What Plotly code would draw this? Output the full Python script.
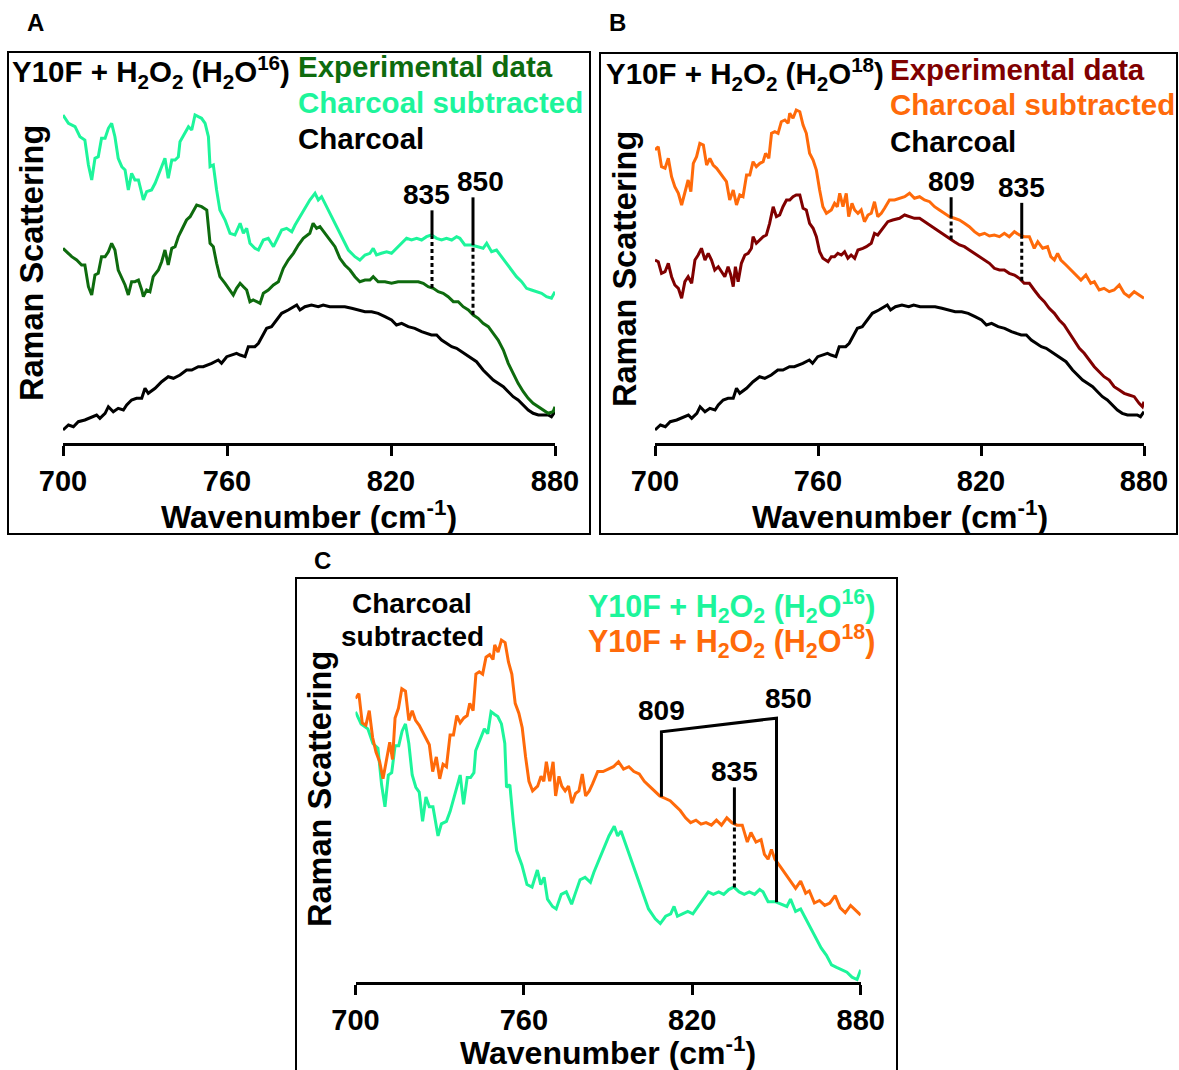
import numpy as np
import plotly.graph_objects as go

W, H = 1179, 1070

# ---------------- spectra: Raman shift (cm-1) and intensity (a.u.) ----------------
# Y10F + H2O2 in H2O(16): charcoal-subtracted spectrum
wn_16_sub = [700.0, 702.0, 704.4, 706.2, 708.0, 709.3, 710.5, 711.7, 712.9, 714.1, 715.4, 716.6, 717.8, 719.0,
             720.2, 721.5, 722.7, 723.9, 725.1, 726.3, 727.6, 728.8, 729.4, 730.6, 732.4, 733.7, 734.9, 736.1,
             737.3, 738.5, 739.8, 741.0, 742.2, 742.8, 744.6, 745.9, 747.1, 748.3, 749.5, 750.7, 752.0, 753.2,
             753.8, 755.0, 756.2, 757.4, 759.3, 761.1, 762.9, 764.8, 766.0, 767.2, 768.4, 770.2, 771.5, 773.3,
             775.1, 777.0, 778.2, 780.0, 781.8, 783.7, 784.9, 786.7, 788.5, 790.3, 792.2, 793.4, 794.6, 796.4,
             798.3, 800.7, 802.5, 804.4, 806.8, 808.6, 810.5, 812.3, 813.5, 814.7, 816.5, 818.4, 820.2, 822.0,
             823.9, 825.7, 827.5, 829.4, 831.2, 833.0, 834.8, 836.7, 838.5, 840.3, 842.2, 844.0, 845.2, 847.0,
             849.5, 851.9, 853.7, 855.0, 856.8, 858.6, 860.5, 862.3, 864.1, 865.9, 867.8, 869.6, 871.4, 873.3,
             875.1, 876.9, 878.7, 880.0]
int_16_sub = [328.0, 319.7, 316.3, 306.3, 303.0, 278.0, 263.0, 284.7, 286.3, 304.7, 304.7, 314.7, 319.7, 306.3,
              284.7, 276.3, 273.0, 253.0, 269.7, 263.0, 263.0, 249.7, 243.0, 251.3, 253.0, 259.7, 268.0, 274.7,
              284.7, 264.7, 283.0, 283.0, 286.3, 301.3, 309.7, 316.3, 313.0, 328.0, 326.3, 324.7, 319.7, 306.3,
              276.3, 278.0, 253.0, 233.0, 223.0, 209.7, 208.0, 219.7, 209.7, 214.7, 199.7, 194.7, 193.0, 203.0,
              204.7, 196.3, 203.0, 213.0, 214.7, 211.3, 218.0, 226.3, 234.7, 243.0, 249.7, 243.0, 246.3, 236.3,
              226.3, 213.0, 203.0, 193.0, 186.3, 183.0, 188.0, 189.7, 194.7, 188.0, 189.7, 191.3, 189.7, 194.7,
              199.7, 204.7, 203.0, 204.7, 203.0, 206.3, 208.0, 204.7, 203.0, 204.7, 203.0, 206.3, 204.7, 198.0,
              198.0, 196.3, 194.7, 199.7, 191.3, 193.0, 186.3, 179.7, 173.0, 166.3, 161.3, 154.7, 153.0, 151.3,
              149.7, 146.3, 144.7, 151.3]

# Y10F + H2O2 in H2O(16): experimental spectrum
wn_16_exp = [700.0, 701.3, 703.2, 705.0, 706.8, 708.0, 709.3, 710.5, 711.7, 712.9, 714.1, 715.4, 716.6, 717.8,
             719.0, 720.2, 721.5, 722.7, 723.9, 725.1, 726.3, 727.6, 728.8, 729.4, 730.6, 731.8, 733.0, 734.9,
             736.1, 737.3, 738.5, 739.8, 741.0, 742.2, 743.4, 745.2, 746.5, 747.7, 748.9, 750.7, 752.6, 753.8,
             755.0, 756.2, 757.4, 759.3, 761.1, 762.3, 763.5, 764.8, 766.0, 767.2, 768.4, 769.6, 770.9, 772.1,
             773.3, 775.1, 777.0, 778.8, 780.6, 782.4, 784.3, 786.1, 787.9, 790.3, 791.5, 792.8, 794.0, 795.8,
             797.6, 799.5, 801.3, 803.1, 805.0, 806.8, 808.6, 810.5, 812.3, 813.5, 815.3, 817.8, 820.2, 822.6,
             825.1, 827.5, 830.0, 831.8, 833.6, 835.5, 837.3, 839.1, 840.9, 842.8, 844.6, 846.4, 848.3, 850.1,
             851.9, 853.7, 855.6, 857.4, 859.2, 861.1, 862.9, 864.7, 866.5, 868.4, 870.2, 872.0, 873.9, 875.7,
             877.5, 879.3, 880.0]
int_16_exp = [194.7, 191.3, 186.3, 183.0, 178.0, 178.0, 156.3, 148.0, 168.0, 169.7, 186.3, 186.3, 191.3, 199.7,
              193.0, 173.0, 164.7, 158.0, 148.0, 161.3, 161.3, 163.0, 153.0, 146.3, 153.0, 151.3, 166.3, 173.0,
              181.3, 193.0, 178.0, 194.7, 196.3, 206.3, 213.0, 223.0, 226.3, 233.0, 238.0, 236.3, 233.0, 199.7,
              196.3, 179.7, 166.3, 159.7, 153.0, 148.0, 154.7, 159.7, 156.3, 153.0, 141.3, 143.0, 141.3, 139.7,
              149.7, 153.0, 158.0, 161.3, 174.7, 183.0, 189.7, 198.0, 204.7, 209.7, 219.7, 214.7, 216.3, 209.7,
              203.0, 196.3, 184.7, 178.0, 173.0, 166.3, 161.3, 163.0, 163.0, 166.3, 161.3, 161.3, 159.7, 161.3,
              161.3, 161.3, 161.3, 159.7, 156.3, 154.7, 151.3, 149.7, 146.3, 141.3, 141.3, 136.3, 133.0, 128.0,
              124.7, 119.7, 116.3, 109.7, 103.0, 93.0, 79.7, 69.7, 59.7, 51.3, 44.7, 39.7, 36.3, 33.0,
              29.7, 31.3, 36.3]

# Charcoal background spectrum
wn_charcoal = [700.0, 702.0, 703.8, 705.6, 708.0, 710.5, 712.3, 713.5, 715.4, 716.6, 718.4, 720.2, 722.1, 723.3,
               725.1, 726.9, 728.8, 730.0, 731.2, 733.7, 736.1, 738.5, 740.4, 742.8, 745.2, 747.1, 749.5, 751.3,
               753.2, 754.4, 756.8, 758.0, 759.9, 761.7, 763.5, 764.8, 766.6, 767.8, 770.2, 771.5, 773.3, 774.5,
               776.3, 778.2, 780.0, 782.4, 784.3, 785.5, 786.7, 788.5, 790.9, 793.4, 795.2, 797.6, 800.7, 803.1,
               805.6, 808.0, 810.5, 812.9, 815.3, 817.8, 820.2, 822.0, 823.9, 826.3, 828.7, 831.2, 833.0, 834.8,
               836.7, 838.5, 840.3, 842.2, 844.0, 845.8, 847.6, 849.5, 851.3, 853.7, 855.6, 857.4, 859.2, 861.1,
               862.9, 864.7, 866.5, 868.4, 870.2, 872.0, 873.9, 875.7, 877.5, 878.7, 880.0]
int_charcoal = [13.0, 18.0, 16.3, 21.3, 23.0, 26.3, 28.0, 24.7, 29.7, 36.3, 31.3, 34.7, 33.0, 38.0,
                43.0, 44.7, 44.7, 54.7, 49.7, 54.7, 61.3, 66.3, 64.7, 68.0, 73.0, 73.0, 76.3, 76.3,
                78.0, 79.7, 83.0, 79.7, 86.3, 88.0, 89.7, 88.0, 86.3, 96.3, 96.3, 99.7, 108.0, 114.7,
                116.3, 123.0, 129.7, 133.0, 136.3, 138.0, 133.0, 136.3, 138.0, 136.3, 138.0, 136.3, 136.3, 136.3,
                134.7, 133.0, 131.3, 131.3, 129.7, 126.3, 123.0, 118.0, 119.7, 116.3, 114.7, 111.3, 109.7, 108.0,
                108.0, 103.0, 99.7, 96.3, 94.7, 91.3, 88.0, 84.7, 81.3, 73.0, 68.0, 63.0, 59.7, 56.3,
                51.3, 46.3, 43.0, 38.0, 33.0, 29.7, 28.0, 28.0, 28.0, 26.3, 31.3]

# Y10F + H2O2 in H2O(18): charcoal-subtracted spectrum
wn_18_sub = [700.0, 701.2, 702.4, 703.7, 704.9, 706.1, 707.3, 708.6, 709.8, 711.0, 712.2, 713.2, 714.1, 715.3,
             716.5, 717.8, 719.0, 720.2, 721.4, 722.7, 724.5, 726.3, 727.5, 728.8, 730.0, 731.2, 732.4, 733.7,
             734.9, 736.1, 737.3, 738.6, 739.8, 740.7, 741.9, 742.9, 744.1, 745.3, 746.5, 747.8, 749.0, 749.6,
             750.8, 752.0, 753.3, 754.5, 755.7, 756.9, 758.2, 759.4, 760.6, 761.8, 763.1, 764.9, 766.1, 767.1,
             768.0, 769.2, 770.4, 771.3, 772.5, 773.5, 774.7, 775.9, 777.1, 778.4, 779.6, 780.8, 782.0, 783.3,
             784.5, 786.3, 788.2, 790.0, 791.9, 793.7, 795.5, 797.4, 799.2, 801.1, 802.9, 804.7, 806.6, 808.4,
             810.2, 812.1, 813.9, 815.7, 817.6, 819.4, 821.3, 823.1, 824.9, 826.8, 828.6, 830.4, 832.3, 834.1,
             835.9, 837.8, 839.6, 840.9, 842.7, 844.5, 845.7, 847.0, 848.2, 849.4, 851.3, 853.1, 854.9, 856.8,
             858.6, 860.4, 861.7, 863.5, 865.3, 867.2, 869.0, 870.9, 872.7, 874.5, 876.4, 878.2, 880.0]
int_18_sub = [293.0, 296.3, 276.3, 274.7, 284.7, 266.3, 256.3, 249.7, 238.0, 249.7, 263.0, 251.3, 279.7, 286.3,
              299.7, 298.0, 278.0, 284.7, 278.0, 274.7, 268.0, 261.3, 243.0, 253.0, 238.0, 248.0, 246.3, 268.0,
              268.0, 281.3, 276.3, 279.7, 281.3, 289.7, 284.7, 309.7, 311.3, 309.7, 321.3, 323.0, 319.7, 329.7,
              324.7, 333.0, 331.3, 318.0, 309.7, 289.7, 283.0, 273.0, 253.0, 236.3, 229.7, 233.0, 239.7, 236.3,
              249.7, 236.3, 249.7, 226.3, 239.7, 233.0, 229.7, 233.0, 221.3, 228.0, 229.7, 241.3, 226.3, 229.7,
              234.7, 243.0, 243.0, 244.7, 246.3, 249.7, 244.7, 246.3, 243.0, 241.3, 236.3, 233.0, 229.7, 226.3,
              224.7, 223.0, 219.7, 216.3, 211.3, 208.0, 209.7, 207.0, 208.0, 206.3, 209.7, 206.3, 211.3, 208.0,
              206.3, 206.3, 194.7, 201.3, 194.7, 196.3, 186.3, 183.0, 189.7, 183.0, 178.0, 173.0, 168.0, 163.0,
              168.0, 159.7, 161.3, 153.0, 154.7, 151.3, 153.0, 158.0, 149.7, 146.3, 151.3, 148.0, 144.7]

# Y10F + H2O2 in H2O(18): experimental spectrum
wn_18_exp = [700.0, 701.2, 702.4, 703.7, 704.9, 706.1, 707.3, 708.6, 709.8, 711.0, 712.2, 713.5, 714.7, 715.9,
             717.1, 718.4, 719.6, 720.8, 722.0, 723.3, 724.5, 725.7, 726.9, 727.9, 728.8, 729.6, 730.6, 731.8,
             733.1, 734.3, 735.5, 736.1, 737.3, 738.6, 739.8, 741.0, 742.2, 743.5, 744.7, 745.9, 747.1, 748.4,
             749.6, 750.8, 752.0, 753.3, 754.5, 755.7, 756.9, 758.2, 759.4, 760.6, 761.8, 763.7, 764.9, 766.1,
             767.3, 768.6, 769.8, 771.0, 772.2, 773.5, 774.7, 776.5, 777.8, 779.6, 780.8, 782.0, 783.9, 785.7,
             787.5, 790.0, 791.9, 793.7, 795.5, 797.4, 799.2, 801.1, 802.9, 804.7, 806.6, 808.4, 810.2, 812.1,
             813.9, 815.7, 817.6, 819.4, 821.3, 823.1, 824.9, 826.8, 828.6, 830.4, 832.3, 834.1, 835.9, 837.8,
             839.6, 841.5, 843.3, 845.1, 847.0, 848.8, 850.6, 852.5, 854.3, 856.2, 858.0, 859.8, 861.7, 863.5,
             865.3, 867.2, 869.0, 870.9, 872.7, 874.5, 876.4, 878.2, 879.4, 880.0]
int_18_exp = [183.0, 181.3, 169.7, 171.3, 179.7, 166.3, 158.0, 154.7, 144.7, 161.3, 166.3, 159.7, 183.0, 188.0,
              194.7, 183.0, 189.7, 183.0, 173.0, 176.3, 171.3, 166.3, 176.3, 168.0, 156.3, 176.3, 161.3, 179.7,
              188.0, 189.7, 194.7, 206.3, 199.7, 203.0, 206.3, 208.0, 219.7, 236.3, 226.3, 228.0, 236.3, 243.0,
              243.0, 246.3, 248.0, 248.0, 234.7, 233.0, 219.7, 214.7, 206.3, 191.3, 184.7, 181.3, 186.3, 186.3,
              189.7, 188.0, 191.3, 184.7, 188.0, 184.7, 193.0, 194.7, 196.3, 199.7, 209.7, 208.0, 214.7, 221.3,
              223.0, 224.7, 228.0, 226.3, 224.7, 224.7, 221.3, 218.0, 214.7, 211.3, 208.0, 204.7, 201.3, 198.0,
              196.3, 193.0, 189.7, 186.3, 183.0, 179.7, 174.7, 173.0, 173.0, 169.7, 168.0, 164.7, 159.7, 159.7,
              153.0, 146.3, 141.3, 134.7, 129.7, 123.0, 118.0, 109.7, 103.0, 94.7, 89.7, 83.0, 76.3, 71.3,
              66.3, 63.0, 56.3, 53.0, 49.7, 48.0, 46.3, 39.7, 36.3, 41.3]

# stacking offset of the H2O(18) trace in the overlay panel
offset_18 = 44.1

# Labelled band positions (cm-1)
band_809, band_835, band_850 = 809, 835, 850

# ---------------- colours / fonts ----------------
C_EXP16 = "#0E6B0E"
C_SUB16 = "#1DF59B"
C_EXP18 = "#800000"
C_SUB18 = "#FF6A0A"
FONT = "Liberation Sans, Arial, sans-serif"
FS = 29.5


def px(x):
    return x / W


def py(y):
    return 1 - y / H


fig = go.Figure()


def add_line(x, y, color, xa, ya):
    fig.add_trace(go.Scatter(x=x, y=y, mode="lines", line=dict(color=color, width=3),
                             xaxis=xa, yaxis=ya, showlegend=False, hoverinfo="skip"))


# Panel A
add_line(wn_charcoal, int_charcoal, "black", "x", "y")
add_line(wn_16_exp, int_16_exp, C_EXP16, "x", "y")
add_line(wn_16_sub, int_16_sub, C_SUB16, "x", "y")
# Panel B
add_line(wn_charcoal, int_charcoal, "black", "x2", "y2")
add_line(wn_18_exp, int_18_exp, C_EXP18, "x2", "y2")
add_line(wn_18_sub, int_18_sub, C_SUB18, "x2", "y2")
# Panel C (overlay of the subtracted spectra)
add_line(wn_16_sub, int_16_sub, C_SUB16, "x3", "y3")
add_line(wn_18_sub, [v + offset_18 for v in int_18_sub], C_SUB18, "x3", "y3")

xaxis_style = dict(range=[700, 880], tickvals=[700, 760, 820, 880], ticks="outside", ticklen=10,
                   tickwidth=3, tickcolor="black", showline=True, linewidth=3, linecolor="black",
                   showgrid=False, zeroline=False, ticklabelstandoff=0,
                   tickfont=dict(family=FONT, size=29, color="black", weight="bold"), fixedrange=True)
yaxis_style = dict(visible=False, showgrid=False, zeroline=False, fixedrange=True)

fig.update_layout(
    width=W, height=H, margin=dict(l=0, r=0, t=0, b=0, pad=0, autoexpand=False),
    paper_bgcolor="white", plot_bgcolor="white", showlegend=False,
    xaxis=dict(domain=[px(63), px(555)], anchor="y", **xaxis_style),
    yaxis=dict(domain=[py(443), py(100)], range=[0, 343], anchor="x", **yaxis_style),
    xaxis2=dict(domain=[px(655), px(1144)], anchor="y2", **xaxis_style),
    yaxis2=dict(domain=[py(443), py(100)], range=[0, 343], anchor="x2", **yaxis_style),
    xaxis3=dict(domain=[px(355.5), px(860.7)], anchor="y3", **xaxis_style),
    yaxis3=dict(domain=[py(982), py(630)], range=[143, 384], anchor="x3", **yaxis_style),
)

# ---------------- panel frames ----------------
for x0, y0, x1, y1 in [(8, 52, 590, 534), (600, 53, 1177, 534), (296, 578, 897, 1080)]:
    fig.add_shape(type="rect", xref="paper", yref="paper", x0=px(x0), x1=px(x1), y0=py(y1), y1=py(y0),
                  line=dict(color="black", width=2), fillcolor="rgba(0,0,0,0)")


# ---------------- text ----------------
def text(x, y, s, size=FS, color="black", xanchor="left", angle=0):
    fig.add_annotation(x=px(x), y=py(y), xref="paper", yref="paper", text=s, showarrow=False,
                       xanchor=xanchor, yanchor="middle", textangle=angle,
                       font=dict(family=FONT, size=size, color=color, weight="bold"))


title16 = "Y10F + H<sub>2</sub>O<sub>2</sub> (H<sub>2</sub>O<sup>16</sup>)"
title18 = "Y10F + H<sub>2</sub>O<sub>2</sub> (H<sub>2</sub>O<sup>18</sup>)"
xtitle = "Wavenumber (cm<sup>-1</sup>)"

text(35, 22, "A", size=24, xanchor="center")
text(617, 22, "B", size=24, xanchor="center")
text(322, 560, "C", size=24, xanchor="center")

text(10, 72, title16)
text(296, 67, "Experimental data", color=C_EXP16)
text(296, 102, "Charcoal subtracted", color=C_SUB16)
text(296, 138, "Charcoal")

text(604, 74, title18)
text(888, 69, "Experimental data", color=C_EXP18)
text(888, 105, "Charcoal subtracted", color=C_SUB18)
text(888, 141, "Charcoal")

text(412, 603, "Charcoal", size=28, xanchor="center")
text(412, 636, "subtracted", size=28, xanchor="center")
text(586, 606, title16, size=30.5, color=C_SUB16)
text(586, 641, title18, size=30.5, color=C_SUB18)

for cx, cy in [(309, 515), (900, 515), (608, 1051)]:
    text(cx, cy, xtitle, size=32, xanchor="center")
for cx, cy in [(32, 263), (625, 269), (320, 789)]:
    text(cx, cy, "Raman Scattering", size=32.5, xanchor="center", angle=-90)


# ---------------- band markers ----------------
def at(wn, xs, ys, off=0.0):
    return float(np.interp(wn, xs, ys)) + off


def marker(xa, ya, wn, y_top, y_mid, y_low=None, label=None, dx=0):
    fig.add_shape(type="line", xref=xa, yref=ya, x0=wn, x1=wn, y0=y_mid, y1=y_top,
                  line=dict(color="black", width=3))
    if y_low is not None:
        fig.add_shape(type="line", xref=xa, yref=ya, x0=wn, x1=wn, y0=y_low, y1=y_mid,
                      line=dict(color="black", width=3, dash="4px,3px"))
    if label is not None:
        fig.add_annotation(x=wn, y=y_top, xref=xa, yref=ya, text=f"<b>{label}</b>", showarrow=False,
                           xanchor="center", yanchor="bottom", xshift=dx, yshift=-2,
                           font=dict(family=FONT, size=28, color="black"))


# Panel A: 835 and 850
m = at(band_835, wn_16_sub, int_16_sub)
marker("x", "y", band_835, m + 25, m, at(band_835, wn_16_exp, int_16_exp), band_835, dx=-6)
m = at(band_850, wn_16_sub, int_16_sub)
marker("x", "y", band_850, m + 48, m, at(band_850, wn_16_exp, int_16_exp), band_850, dx=7)

# Panel B: 809 and 835
m = at(band_809, wn_18_sub, int_18_sub)
marker("x2", "y2", band_809, m + 20, m, at(band_809, wn_18_exp, int_18_exp), band_809)
m = at(band_835, wn_18_sub, int_18_sub)
marker("x2", "y2", band_835, m + 33, m, at(band_835, wn_18_exp, int_18_exp), band_835)

# Panel C: 835 between the two traces, 809/850 isotope bracket
m = at(band_835, wn_18_sub, int_18_sub, offset_18)
marker("x3", "y3", band_835, m + 25, m, at(band_835, wn_16_sub, int_16_sub), band_835)

b809 = at(band_809, wn_18_sub, int_18_sub, offset_18)
b850 = at(band_850, wn_16_sub, int_16_sub)
t809, t850 = b809 + 44.5, b850 + 126
fig.add_shape(type="path", xref="x3", yref="y3",
              path=f"M {band_809},{b809} L {band_809},{t809} L {band_850},{t850} L {band_850},{b850}",
              line=dict(color="black", width=3), fillcolor="rgba(0,0,0,0)")
fig.add_annotation(x=band_809, y=t809, xref="x3", yref="y3", text=f"<b>{band_809}</b>", showarrow=False,
                   xanchor="center", yanchor="bottom", yshift=4,
                   font=dict(family=FONT, size=28, color="black"))
fig.add_annotation(x=band_850, y=t850, xref="x3", yref="y3", text=f"<b>{band_850}</b>", showarrow=False,
                   xanchor="center", yanchor="bottom", xshift=12, yshift=2,
                   font=dict(family=FONT, size=28, color="black"))

fig.write_html("out.html")
